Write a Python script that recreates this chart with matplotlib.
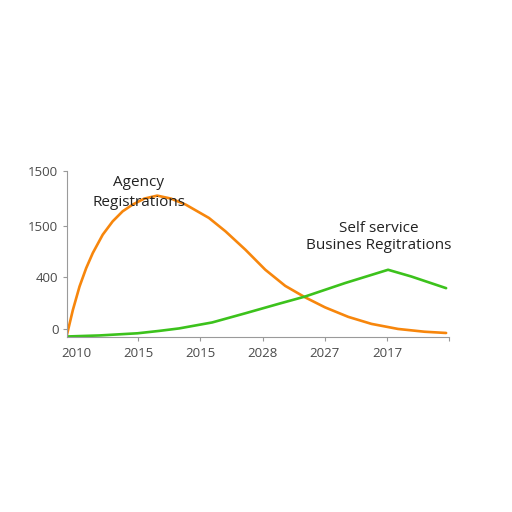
import matplotlib.pyplot as plt

# tick positions and the labels printed on them
x_tick_pos = [0, 1, 2, 3, 4, 5, 6]
x_tick_labels = ['2010', '2015', '2015', '2028', '2027', '2017', '']
y_tick_pos = [0, 500, 1000, 1525]
y_tick_labels = ['0', '400', '1500', '1500']

# values
agency_x = [-0.147, -0.051, 0.056, 0.163, 0.269, 0.429, 0.589, 0.749, 0.909, 1.096,
            1.304, 1.528, 1.763, 2.136, 2.403, 2.723, 3.043, 3.363, 3.683, 4.003,
            4.376, 4.749, 5.176, 5.603, 5.949]
agency_y = [-58, 184, 411, 589, 735, 913, 1042, 1139, 1204, 1262,
            1291, 1262, 1204, 1075, 945, 767, 573, 417, 306, 209,
            117, 49, 0, -27, -39]

self_x = [-0.147, 0.376, 0.989, 1.336, 1.656, 2.189, 2.723, 3.256, 3.683, 4.323,
          5.016, 5.389, 5.949]
self_y = [-73, -63, -42, -19, 5, 63, 152, 243, 314, 444,
          573, 508, 395]

plt.rcParams['font.family'] = ['Open Sans', 'DejaVu Sans']

fig = plt.figure(figsize=(5.12, 5.12), dpi=100)
ax = fig.add_axes([0.1303, 0.3424, 0.7472, 0.3227])

ax.plot(agency_x, agency_y, color='#f7860c', linewidth=1.9, solid_capstyle='round')
ax.plot(self_x, self_y, color='#3cc21c', linewidth=1.9, solid_capstyle='round')

ax.set_xlim(-0.15, 6)
ax.set_ylim(-75, 1525)
ax.set_xticks(x_tick_pos)
ax.set_xticklabels(x_tick_labels)
ax.set_yticks(y_tick_pos)
ax.set_yticklabels(y_tick_labels)
ax.tick_params(axis='both', colors='#999999', labelcolor='#4a4a4a', labelsize=9.5,
               length=3, pad=3)
ax.tick_params(axis='x', pad=4.5)
# no tick mark under the first year label
ax.xaxis.get_major_ticks()[0].tick1line.set_visible(False)

for side in ['top', 'right']:
    ax.spines[side].set_visible(False)
for side in ['left', 'bottom']:
    ax.spines[side].set_color('#9a9a9a')

ax.text(1.011, 1320, 'Agency\nRegistrations', ha='center', va='center',
        fontsize=11, color='#222222', linespacing=1.5)
ax.text(4.86, 893, 'Self service\nBusines Regitrations', ha='center', va='center',
        fontsize=11, color='#222222', linespacing=1.2)

plt.savefig('out.png', dpi=100)
